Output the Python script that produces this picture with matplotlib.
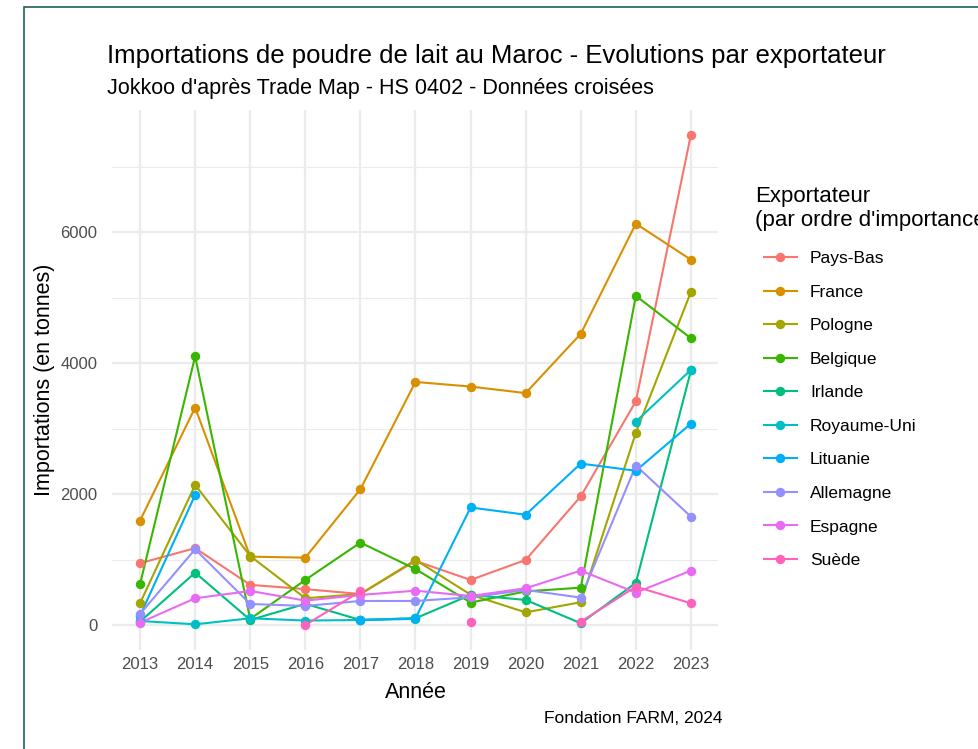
import matplotlib.pyplot as plt
import numpy as np
from matplotlib.lines import Line2D
from matplotlib.patches import Rectangle

plt.rcParams['font.family'] = ['Liberation Sans', 'DejaVu Sans']

years = list(range(2013, 2024))
nan = np.nan

pays_bas = [950, 1180, 620, 555, 480, 985, 695, 1000, 1970, 3420, 7490]
france = [1600, 3325, 1050, 1035, 2080, 3715, 3645, 3545, 4450, 6130, 5580]
pologne = [340, 2145, 1060, 415, 480, 1000, 470, 200, 355, 2940, 5090]
belgique = [630, 4105, 100, 695, 1265, 860, 350, 520, 577, 5030, 4380]
irlande = [58, 806, 84, 330, 84, 110, 466, 390, 34, 650, 3890]
royaume_uni = [69, 18, 110, 75, 84, 100, nan, nan, nan, 3110, 3900]
lituanie = [150, 1990, nan, nan, 84, 110, 1800, 1690, 2470, 2360, 3080]
allemagne = [176, 1163, 328, 298, 374, 374, 430, 542, 425, 2440, 1660]
espagne = [43, 415, 527, 379, 466, 531, 450, 568, 837, 501, 837]
suede = [nan, nan, nan, 8, 520, nan, 58, nan, 58, 592, 339]

exporters = ['Pays-Bas', 'France', 'Pologne', 'Belgique', 'Irlande',
             'Royaume-Uni', 'Lituanie', 'Allemagne', 'Espagne', 'Suède']
series = [pays_bas, france, pologne, belgique, irlande,
          royaume_uni, lituanie, allemagne, espagne, suede]
colors = ['#F8766D', '#D89000', '#A3A500', '#39B600', '#00BF7D',
          '#00BFC4', '#00B0F6', '#9590FF', '#E76BF3', '#FF62BC']

fig = plt.figure(figsize=(9.79, 7.49), dpi=100)
ax = fig.add_axes([112.5 / 979, 1 - 650 / 749, 606 / 979, 540 / 749])

# lines first, then points (ggplot layer order)
for vals, c in zip(series, colors):
    ax.plot(years, vals, color=c, lw=1.5, solid_capstyle='butt', zorder=3)
for vals, c in zip(series, colors):
    ax.plot(years, vals, 'o', color=c, ms=6.8, mew=0, zorder=4)

ax.set_xlim(2012.5, 2023.5)
ax.set_ylim(-374, 7864)
ax.set_xticks(years)
ax.set_yticks([0, 2000, 4000, 6000])
ax.set_yticks([1000, 3000, 5000, 7000], minor=True)
ax.grid(True, which='major', color='#EBEBEB', lw=1.6)
ax.grid(True, which='minor', axis='y', color='#EBEBEB', lw=0.8)
ax.set_axisbelow(True)
for s in ax.spines.values():
    s.set_visible(False)
ax.tick_params(which='both', length=0, labelsize=12, labelcolor='#4D4D4D', pad=5)
ax.tick_params(axis='y', pad=11)

ax.set_xlabel('Année', fontsize=15.5, labelpad=7)
ax.set_ylabel('Importations (en tonnes)', fontsize=15.5, labelpad=4)

fig.text(107 / 979, 1 - 63 / 749, "Importations de poudre de lait au Maroc - Evolutions par exportateur",
         fontsize=18.5, va='baseline', ha='left')
fig.text(107 / 979, 1 - 94 / 749, "Jokkoo d'après Trade Map - HS 0402 - Données croisées",
         fontsize=15.5, va='baseline', ha='left')
fig.text(723 / 979, 1 - 723 / 749, "Fondation FARM, 2024", fontsize=12.5, ha='right', va='baseline')

# legend
fig.text(755 / 979, 1 - 226 / 749, "Exportateur\n(par ordre d'importance)", fontsize=16,
         ha='left', va='baseline', linespacing=1.2)
handles = [Line2D([], [], color=c, lw=1.5, marker='o', ms=6.8, mew=0) for c in colors]
leg = fig.legend(handles, exporters, loc='upper left', bbox_to_anchor=(757 / 979, 1 - 244 / 749),
                 frameon=False, fontsize=12.5, handlelength=1.9, handletextpad=0.75,
                 labelspacing=1.06, borderaxespad=0)

fig.add_artist(Rectangle((24 / 979, -0.1), 1.1, 1 - 7 / 749 + 0.1, transform=fig.transFigure,
                         fill=False, edgecolor='#1F5F5B', lw=1.2))

fig.savefig('out.png', dpi=100)
